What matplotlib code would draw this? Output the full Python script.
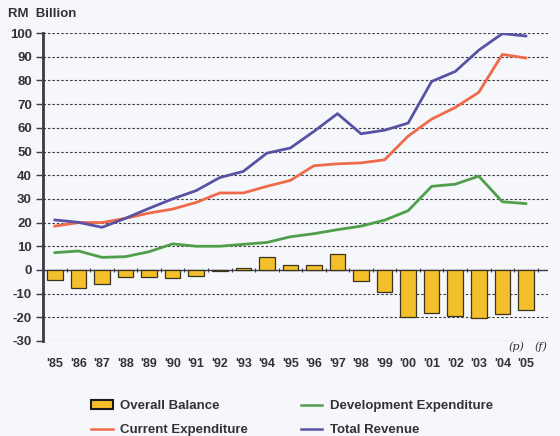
import matplotlib.pyplot as plt
from matplotlib.patches import Patch
from matplotlib.lines import Line2D

years = ["'85", "'86", "'87", "'88", "'89", "'90", "'91", "'92", "'93", "'94", "'95",
         "'96", "'97", "'98", "'99", "'00", "'01", "'02", "'03", "'04", "'05"]
overall_balance = [-4.2, -7.5, -6.0, -3.2, -3.2, -3.3, -2.4, -0.5, 0.7, 5.3, 2.1,
                   2.1, 6.9, -4.6, -9.3, -19.7, -18.2, -19.6, -20.1, -18.6, -17.0]
current_exp = [18.5, 20.0, 20.0, 21.8, 24.0, 25.7, 28.5, 32.5, 32.5, 35.3, 37.8,
               44.0, 44.8, 45.2, 46.5, 56.5, 63.7, 68.6, 75.0, 91.0, 89.5]
development_exp = [7.3, 8.0, 5.3, 5.6, 7.7, 11.0, 10.0, 10.0, 10.8, 11.6, 14.0,
                   15.3, 17.0, 18.5, 21.0, 25.0, 35.3, 36.2, 39.6, 28.8, 28.0]
total_revenue = [21.1, 20.1, 18.0, 21.8, 26.0, 30.0, 33.5, 39.0, 41.6, 49.3, 51.5,
                 58.5, 66.0, 57.5, 59.0, 62.0, 79.6, 83.8, 92.8, 99.8, 98.8]

bg = '#f5f7fb'
c_bar = '#f3bf2a'
c_red = '#ee6a4a'
c_green = '#4f9f4a'
c_blue = '#5b51a3'
c_text = '#333333'

plt.rcParams['font.family'] = ['Liberation Sans', 'DejaVu Sans']
plt.rcParams['font.weight'] = 'bold'

fig = plt.figure(figsize=(5.6, 4.36), dpi=100, facecolor=bg)
ax = fig.add_axes([0.077, 0.218, 0.902, 0.706], facecolor=bg)

x = list(range(len(years)))
ax.bar(x, overall_balance, width=0.66, color=c_bar, edgecolor='#3a3320', linewidth=0.9, zorder=3)
ax.plot(x, current_exp, color=c_red, lw=2, zorder=4)
ax.plot(x, development_exp, color=c_green, lw=2, zorder=4)
ax.plot(x, total_revenue, color=c_blue, lw=2, zorder=4)

ax.set_ylim(-30, 100)
ax.set_xlim(-0.5, 20.95)
ax.set_yticks(range(-30, 101, 10))
ax.set_yticklabels([str(v) for v in range(-30, 101, 10)], fontsize=9.5, color=c_text, fontweight='bold')
for v in range(-30, 101, 10):
    if v != 0:
        ax.axhline(v, color='#3a3a48', lw=0.8, ls=(0, (2.2, 1.8)), zorder=1)
ax.axhline(0, color='#3a3a48', lw=1.0, zorder=2)

ax.set_xticks(x)
ax.set_xticklabels(years, fontsize=9, color=c_text, fontweight='bold')
ax.tick_params(axis='x', length=0, pad=12)
ax.tick_params(axis='y', length=5, width=1, color='#3a3a48', pad=3)

for s in ['top', 'right', 'bottom']:
    ax.spines[s].set_visible(False)
ax.spines['left'].set_color('#3a3a48')
ax.spines['left'].set_linewidth(2)

# tick marks between the bars along the zero line
sec = ax.secondary_xaxis(30 / 130)
sec.set_xticks([i + 0.5 for i in range(-1, 21)])
sec.set_xticklabels([])
sec.tick_params(length=3, width=0.8, color='#3a3a48', direction='inout')
sec.spines['bottom'].set_visible(False)
sec.spines['top'].set_visible(False)

fig.text(0.014, 0.962, 'RM  Billion', fontsize=9.5, color=c_text, fontweight='bold')
ax.text(19.6, -33.8, '(p)', fontsize=8, style='italic', family='DejaVu Serif',
        fontweight='normal', color=c_text, ha='center')
ax.text(20.65, -33.8, '(f)', fontsize=8, style='italic', family='DejaVu Serif',
        fontweight='normal', color=c_text, ha='center')

handles = [Patch(facecolor=c_bar, edgecolor='#1a1a1a', linewidth=1.5),
           Line2D([], [], color=c_red, lw=1.8),
           Line2D([], [], color=c_green, lw=1.8),
           Line2D([], [], color=c_blue, lw=1.8)]
labels = ['Overall Balance', 'Current Expenditure', 'Development Expenditure', 'Total Revenue']
leg = fig.legend(handles, labels, loc='center', bbox_to_anchor=(0.522, 0.041), ncol=2,
                 frameon=False, fontsize=9.5, columnspacing=4.0, handlelength=1.6,
                 handletextpad=0.6, labelspacing=0.9, labelcolor=c_text)

fig.savefig('out.png', dpi=100, facecolor=bg)
